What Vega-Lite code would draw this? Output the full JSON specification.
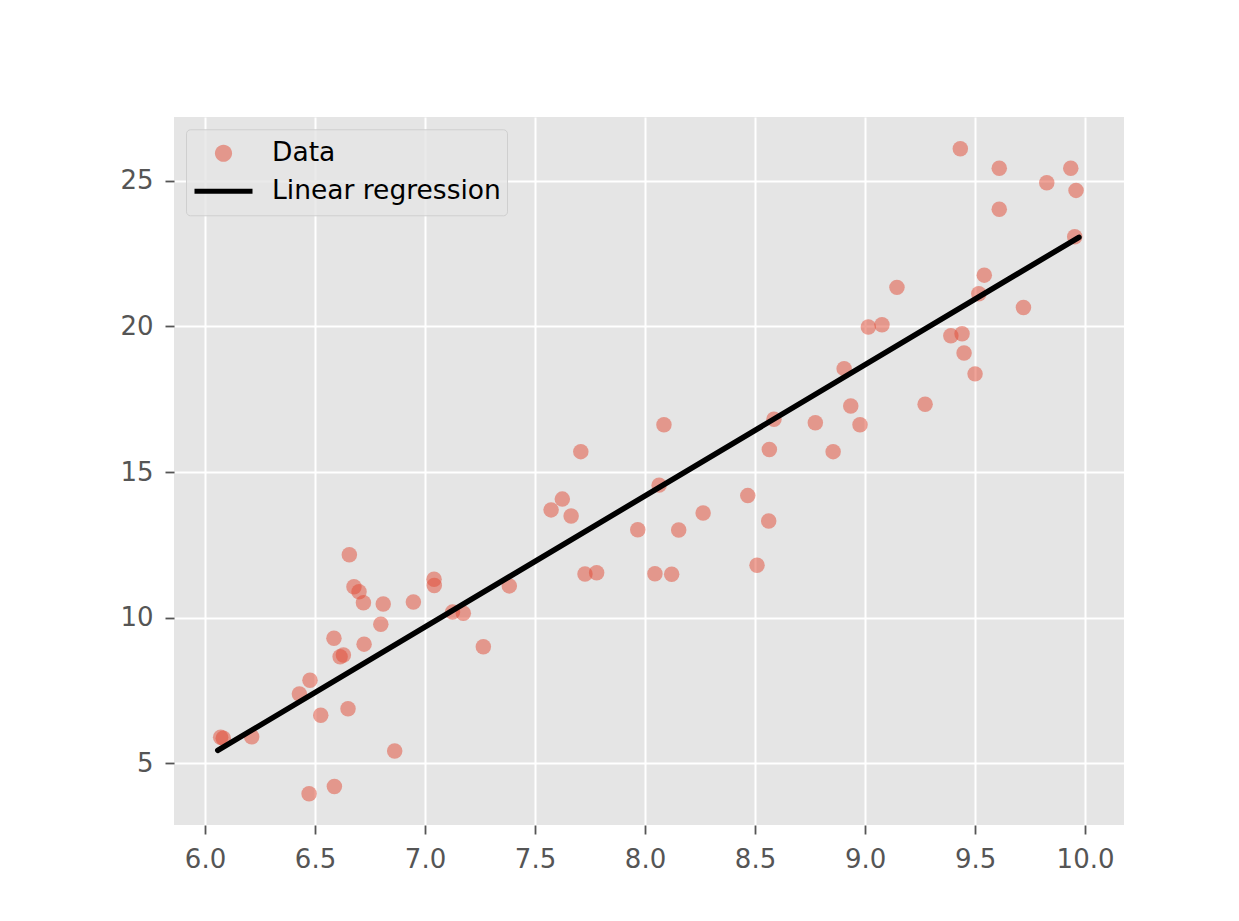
{
  "$schema": "https://vega.github.io/schema/vega-lite/v6.json",
  "width": 950,
  "height": 708,
  "autosize": {"type": "none"},
  "padding": {"left": 174, "top": 117, "right": 115, "bottom": 96},
  "background": "#ffffff",
  "config": {
    "font": "DejaVu Sans",
    "view": {"fill": "#E5E5E5", "stroke": null},
    "axis": {
      "domain": false,
      "grid": true,
      "gridColor": "#ffffff",
      "gridWidth": 2,
      "tickColor": "#555555",
      "tickWidth": 1.8,
      "tickSize": 9,
      "labelColor": "#555555",
      "labelFontSize": 26,
      "labelFont": "DejaVu Sans",
      "labelPadding": 12,
      "labelFlush": false,
      "labelOverlap": false,
      "title": null
    }
  },
  "datasets": {
    "points": [
      {"x": 6.071, "y": 5.89, "series": "Data"},
      {"x": 6.083, "y": 5.86, "series": "Data"},
      {"x": 6.212, "y": 5.91, "series": "Data"},
      {"x": 6.429, "y": 7.38, "series": "Data"},
      {"x": 6.477, "y": 7.85, "series": "Data"},
      {"x": 6.526, "y": 6.65, "series": "Data"},
      {"x": 6.473, "y": 3.95, "series": "Data"},
      {"x": 6.588, "y": 4.2, "series": "Data"},
      {"x": 6.65, "y": 6.87, "series": "Data"},
      {"x": 6.862, "y": 5.42, "series": "Data"},
      {"x": 6.586, "y": 9.29, "series": "Data"},
      {"x": 6.614, "y": 8.66, "series": "Data"},
      {"x": 6.629, "y": 8.72, "series": "Data"},
      {"x": 6.723, "y": 9.09, "series": "Data"},
      {"x": 6.799, "y": 9.77, "series": "Data"},
      {"x": 6.81, "y": 10.47, "series": "Data"},
      {"x": 6.947, "y": 10.54, "series": "Data"},
      {"x": 6.72, "y": 10.51, "series": "Data"},
      {"x": 6.7, "y": 10.89, "series": "Data"},
      {"x": 6.677, "y": 11.06, "series": "Data"},
      {"x": 6.656, "y": 12.16, "series": "Data"},
      {"x": 7.041, "y": 11.32, "series": "Data"},
      {"x": 7.042, "y": 11.1, "series": "Data"},
      {"x": 7.125, "y": 10.19, "series": "Data"},
      {"x": 7.174, "y": 10.15, "series": "Data"},
      {"x": 7.265, "y": 9.0, "series": "Data"},
      {"x": 7.383, "y": 11.09, "series": "Data"},
      {"x": 7.708, "y": 15.7, "series": "Data"},
      {"x": 7.573, "y": 13.7, "series": "Data"},
      {"x": 7.624, "y": 14.07, "series": "Data"},
      {"x": 7.664, "y": 13.49, "series": "Data"},
      {"x": 7.727, "y": 11.5, "series": "Data"},
      {"x": 7.78, "y": 11.54, "series": "Data"},
      {"x": 7.967, "y": 13.02, "series": "Data"},
      {"x": 8.045, "y": 11.51, "series": "Data"},
      {"x": 8.121, "y": 11.49, "series": "Data"},
      {"x": 8.086, "y": 16.62, "series": "Data"},
      {"x": 8.064, "y": 14.55, "series": "Data"},
      {"x": 8.153, "y": 13.01, "series": "Data"},
      {"x": 8.264, "y": 13.59, "series": "Data"},
      {"x": 8.467, "y": 14.19, "series": "Data"},
      {"x": 8.562, "y": 13.32, "series": "Data"},
      {"x": 8.509, "y": 11.8, "series": "Data"},
      {"x": 8.565, "y": 15.77, "series": "Data"},
      {"x": 8.586, "y": 16.81, "series": "Data"},
      {"x": 8.774, "y": 16.69, "series": "Data"},
      {"x": 8.855, "y": 15.7, "series": "Data"},
      {"x": 8.935, "y": 17.27, "series": "Data"},
      {"x": 8.977, "y": 16.62, "series": "Data"},
      {"x": 8.905, "y": 18.55, "series": "Data"},
      {"x": 9.015, "y": 19.98, "series": "Data"},
      {"x": 9.077, "y": 20.06, "series": "Data"},
      {"x": 9.273, "y": 17.33, "series": "Data"},
      {"x": 9.39, "y": 19.68, "series": "Data"},
      {"x": 9.441, "y": 19.75, "series": "Data"},
      {"x": 9.45, "y": 19.09, "series": "Data"},
      {"x": 9.5, "y": 18.37, "series": "Data"},
      {"x": 9.72, "y": 20.65, "series": "Data"},
      {"x": 9.145, "y": 21.34, "series": "Data"},
      {"x": 9.433, "y": 26.1, "series": "Data"},
      {"x": 9.61, "y": 25.43, "series": "Data"},
      {"x": 9.61, "y": 24.02, "series": "Data"},
      {"x": 9.826, "y": 24.93, "series": "Data"},
      {"x": 9.935, "y": 25.43, "series": "Data"},
      {"x": 9.959, "y": 24.67, "series": "Data"},
      {"x": 9.953, "y": 23.08, "series": "Data"},
      {"x": 9.542, "y": 21.76, "series": "Data"},
      {"x": 9.517, "y": 21.12, "series": "Data"}
    ],
    "line": [
      {"x": 6.058, "y": 5.44, "series": "Linear regression"},
      {"x": 9.972, "y": 23.06, "series": "Linear regression"}
    ]
  },
  "layer": [
    {
      "data": {"name": "points"},
      "mark": {"type": "point", "filled": true, "opacity": 0.5, "size": 240, "strokeWidth": 0},
      "encoding": {
        "x": {"field": "x", "type": "quantitative", "scale": {"domain": [5.859, 10.177], "nice": false, "zero": false}, "axis": {"values": [6, 6.5, 7, 7.5, 8, 8.5, 9, 9.5, 10], "format": ".1f"}},
        "y": {"field": "y", "type": "quantitative", "scale": {"domain": [2.88, 27.19], "nice": false, "zero": false}, "axis": {"values": [5, 10, 15, 20, 25], "format": "d"}},
        "color": {
          "field": "series",
          "type": "nominal",
          "scale": {"domain": ["Data", "Linear regression"], "range": ["#E24A33", "#000000"]},
          "legend": {
            "title": null,
            "orient": "none",
            "legendX": 12,
            "legendY": 12.3,
            "padding": 6,
            "fillColor": "rgba(229,229,229,0.8)",
            "strokeColor": "#CFCFCF",
            "cornerRadius": 4,
            "symbolSize": 3364,
            "symbolStrokeWidth": 5,
            "symbolOffset": 0,
            "clipHeight": 36,
            "rowPadding": 2,
            "labelFontSize": 26.5,
            "labelFont": "DejaVu Sans",
            "labelColor": "#000000",
            "labelOffset": 17,
            "labelLimit": 500,
            "encode": {
              "symbols": {
                "update": {
                  "shape": {"signal": "datum.value === 'Data' ? 'M-0.295,0A0.295,0.295,0,1,1,0.295,0A0.295,0.295,0,1,1,-0.295,0Z' : 'stroke'"},
                  "fill": {"signal": "datum.value === 'Data' ? '#E24A33' : 'transparent'"},
                  "fillOpacity": {"value": 0.5},
                  "stroke": {"signal": "datum.value === 'Data' ? 'transparent' : '#000000'"},
                  "strokeOpacity": {"signal": "datum.value === 'Data' ? 0 : 1"},
                  "size": {"value": 3364},
                  "strokeWidth": {"value": 5},
                  "opacity": {"value": 1}
                }
              }
            }
          }
        }
      }
    },
    {
      "data": {"name": "line"},
      "mark": {"type": "line", "strokeWidth": 5.5, "strokeCap": "round"},
      "encoding": {
        "x": {"field": "x", "type": "quantitative"},
        "y": {"field": "y", "type": "quantitative"},
        "color": {
          "field": "series",
          "type": "nominal",
          "legend": {
            "title": null,
            "orient": "none",
            "legendX": 12,
            "legendY": 12.3,
            "padding": 6,
            "fillColor": "rgba(229,229,229,0.8)",
            "strokeColor": "#CFCFCF",
            "cornerRadius": 4,
            "symbolSize": 3364,
            "symbolStrokeWidth": 5,
            "symbolOffset": 0,
            "clipHeight": 36,
            "rowPadding": 2,
            "labelFontSize": 26.5,
            "labelFont": "DejaVu Sans",
            "labelColor": "#000000",
            "labelOffset": 17,
            "labelLimit": 500,
            "encode": {
              "symbols": {
                "update": {
                  "shape": {"signal": "datum.value === 'Data' ? 'M-0.295,0A0.295,0.295,0,1,1,0.295,0A0.295,0.295,0,1,1,-0.295,0Z' : 'stroke'"},
                  "fill": {"signal": "datum.value === 'Data' ? '#E24A33' : 'transparent'"},
                  "fillOpacity": {"value": 0.5},
                  "stroke": {"signal": "datum.value === 'Data' ? 'transparent' : '#000000'"},
                  "strokeOpacity": {"signal": "datum.value === 'Data' ? 0 : 1"},
                  "size": {"value": 3364},
                  "strokeWidth": {"value": 5},
                  "opacity": {"value": 1}
                }
              }
            }
          }
        }
      }
    }
  ]
}
